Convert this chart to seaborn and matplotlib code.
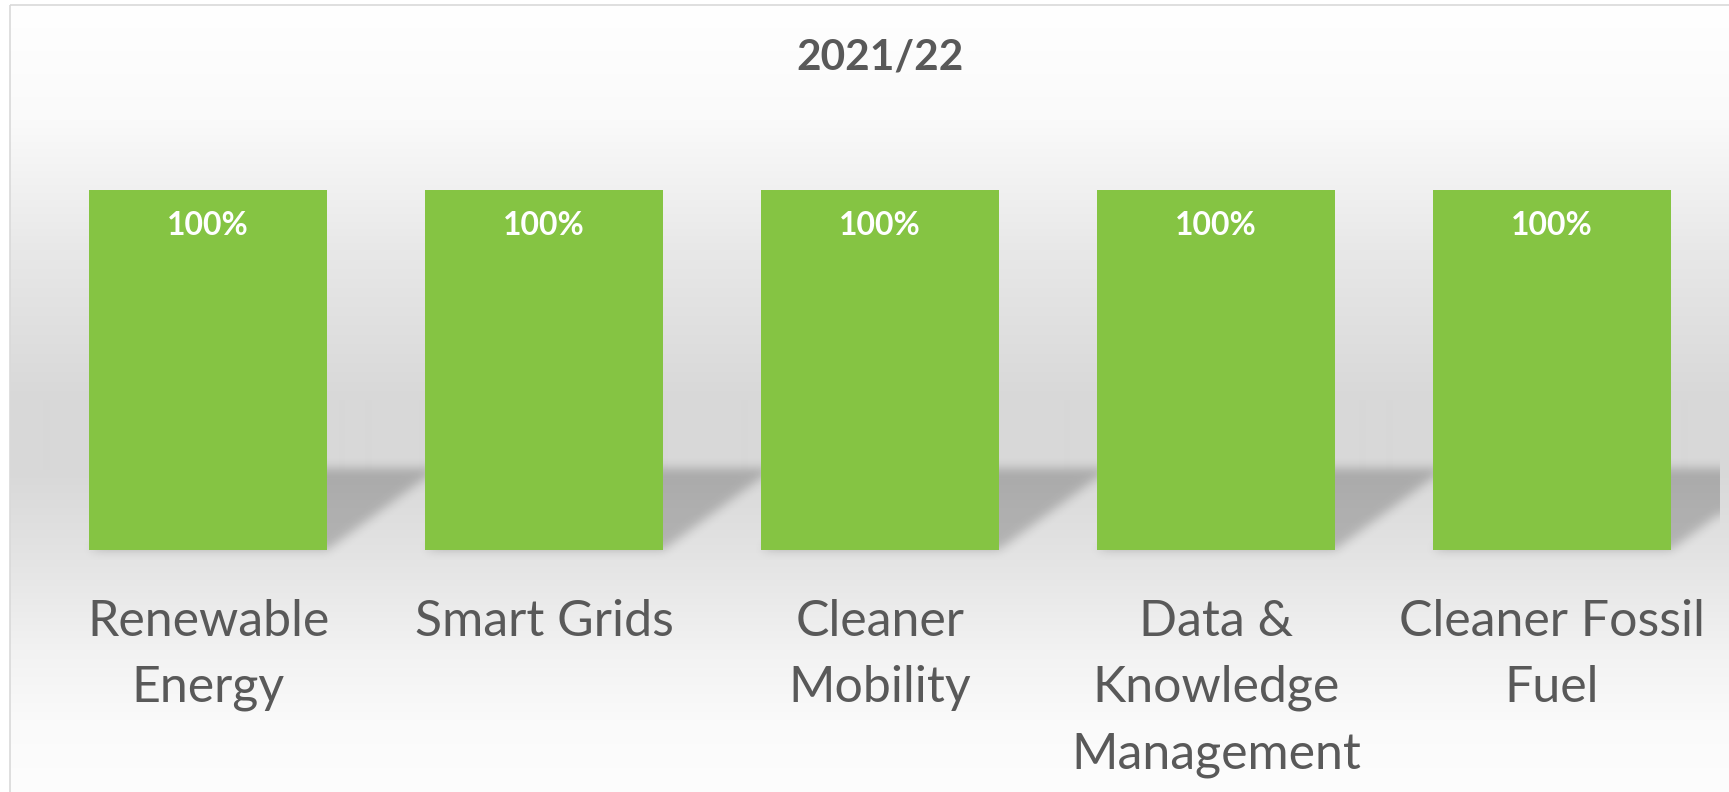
import numpy as np
import pandas as pd
import seaborn as sns
import matplotlib.pyplot as plt
from matplotlib.patches import Rectangle

# chart data
categories = ["Renewable\nEnergy", "Smart Grids", "Cleaner\nMobility",
              "Data &\nKnowledge\nManagement", "Cleaner Fossil\nFuel"]
share = [1.0, 1.0, 1.0, 1.0, 1.0]
title = "2021/22"

BAR_GREEN = "#85c443"
TEXT_GREY = "#595959"

sns.set_style("white")
plt.rcParams['font.family'] = ['Lato', 'DejaVu Sans']

W, H = 1729, 792
fig = plt.figure(figsize=(W / 100, H / 100), dpi=100)


def smooth(a, sigma, axis):
    # gaussian blur along one axis, edges padded so the cut stays sharp
    r = int(3 * sigma)
    k = np.exp(-0.5 * (np.arange(-r, r + 1) / sigma) ** 2)
    k /= k.sum()
    pad = [(0, 0), (0, 0)]
    pad[axis] = (r, r)
    a = np.pad(a, pad, mode='edge')
    out = np.apply_along_axis(lambda v: np.convolve(v, k, mode='valid'), axis, a)
    return out


def bar_shadow(ax, patches, lean=0.333, depth=0.23, sigma=5):
    # soft perspective shadow falling back and to the right of each bar
    x0, x1 = ax.get_xlim()
    xs = np.linspace(x0, x1, 1680)
    ys = np.linspace(-0.08, 0.30, 137)
    X, Y = np.meshgrid(xs, ys)
    mask = np.zeros_like(X)
    for p in patches:
        left = p.get_x()
        right = left + p.get_width()
        shift = lean * Y / depth
        inside = (Y >= 0) & (Y <= depth) & (X >= left + shift) & (X <= right + shift)
        mask[inside] = 1.0
    mask = smooth(mask, sigma, 1)
    mask = smooth(mask, sigma, 0)
    rgba = np.zeros(mask.shape + (4,))
    rgba[..., 3] = mask * 0.21
    ax.imshow(rgba, extent=[x0, x1, ys[0], ys[-1]], origin='lower',
              aspect='auto', zorder=0.5, clip_on=False, interpolation='bilinear')
    ax.set_xlim(x0, x1)


# background: framed chart area with a vertical grey gradient
bg = fig.add_axes([0, 0, 1, 1])
stops_y = [5, 120, 250, 400, 470, 560, 650, 720, 792]
stops_v = [255, 250, 232, 216, 216, 228, 242, 250, 253]
rows = np.interp(np.arange(5, H), stops_y, stops_v) / 255
grad = np.repeat(rows[:, None], 3, axis=1)[:, None, :]
bg.imshow(grad, extent=[10, W, H, 5], aspect='auto', interpolation='bilinear')
bg.add_patch(Rectangle((10, 5), W + 50, H + 50, fill=False,
                       edgecolor='#d9d9d9', lw=1.2))
bg.set_xlim(0, W)
bg.set_ylim(H, 0)
bg.axis('off')

# plot area
ax = fig.add_axes([40 / W, (H - 550) / H, 1680 / W, 360 / H])
df = pd.DataFrame({"category": categories, "share": share})
sns.barplot(data=df, x="category", y="share", color=BAR_GREEN, saturation=1,
            width=0.708, linewidth=0, ax=ax)
ax.set_xlim(-0.5, 4.5)
ax.set_ylim(0, 1)
ax.patch.set_visible(False)
sns.despine(ax=ax, left=True, bottom=True)
ax.set_xlabel("")
ax.set_ylabel("")
ax.set_yticks([])
ax.tick_params(axis='x', length=0, pad=35, labelsize=36, labelcolor=TEXT_GREY)
for lbl in ax.get_xticklabels():
    lbl.set_linespacing(1.55)

bar_shadow(ax, ax.patches)
ax.set_ylim(0, 1)

# value labels inside the bars
for i, v in enumerate(share):
    ax.text(i, v - 0.125, f"{v:.0%}", ha='center', va='baseline',
            color='white', fontsize=23, fontweight='bold')

fig.text(880 / W, 1 - 70 / H, title, ha='center', va='baseline',
         fontsize=30.5, fontweight='bold', color=TEXT_GREY)

fig.savefig("out.png", dpi=100)
